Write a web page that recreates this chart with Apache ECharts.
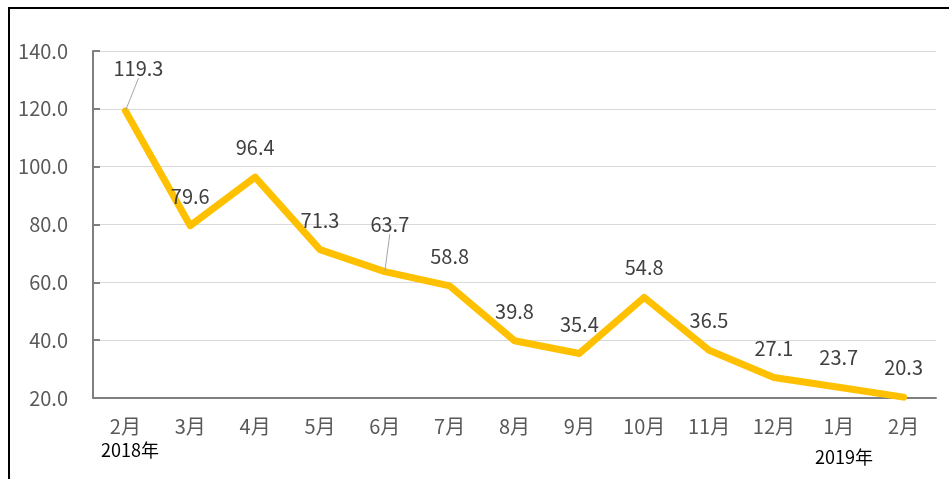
<!DOCTYPE html>
<html>
<head>
<meta charset="utf-8">
<script src="https://cdn.jsdelivr.net/npm/echarts@6/dist/echarts.min.js"></script>
<style>
  html, body { margin: 0; padding: 0; background: #fff; }
  #chart { width: 949px; height: 479px; }
</style>
</head>
<body>
<div id="chart"></div>
<script>
  const months = ["2月", "3月", "4月", "5月", "6月", "7月", "8月", "9月", "10月", "11月", "12月", "1月", "2月"];
  const values = [119.3, 79.6, 96.4, 71.3, 63.7, 58.8, 39.8, 35.4, 54.8, 36.5, 27.1, 23.7, 20.3];
  const yearLabels = ["2018年", "2019年"];

  const font = "'Noto Sans CJK SC', 'Noto Sans', sans-serif";

  var myChart = echarts.init(document.getElementById("chart"));
  var option;

  // leader lines only on the two labels that sit off to the side
  const seriesData = values.map((v, i) => {
    if (i === 0 || i === 4) {
      return {
        value: v,
        labelLine: { show: true, lineStyle: { color: "#a6a6a6", width: 1 } },
      };
    }
    return v;
  });

  option = {
    animation: false,
    grid: { left: 93, right: 13, top: 51, bottom: 81 },
    graphic: [
      {
        type: "rect",
        shape: { x: 9, y: 8, width: 1200, height: 1200 },
        style: { fill: "none", stroke: "#000", lineWidth: 2 },
        silent: true,
      },
      {
        type: "text",
        left: 101,
        top: 441,
        style: { text: yearLabels[0], fill: "#000", font: "18px " + font },
      },
      {
        type: "text",
        left: 815,
        top: 448,
        style: { text: yearLabels[1], fill: "#000", font: "18px " + font },
      },
    ],
    xAxis: {
      type: "category",
      data: months,
      boundaryGap: true,
      axisLine: { lineStyle: { color: "#7f7f7f", width: 2 } },
      axisTick: { show: false },
      axisLabel: { color: "#595959", fontSize: 20, fontFamily: font, margin: 18 },
    },
    yAxis: {
      type: "value",
      min: 20,
      max: 140,
      interval: 20,
      axisLine: { show: true, lineStyle: { color: "#7f7f7f", width: 2 } },
      axisTick: { show: true, inside: true, length: 7, lineStyle: { color: "#7f7f7f", width: 2 } },
      axisLabel: {
        color: "#595959",
        fontSize: 20,
        fontFamily: font,
        margin: 25,
        formatter: (v) => v.toFixed(1),
      },
      splitLine: { lineStyle: { color: "#d9d9d9", width: 1 } },
    },
    series: [
      {
        type: "line",
        data: seriesData,
        symbol: "circle",
        symbolSize: 1,
        itemStyle: { color: "#FFC000" },
        lineStyle: { color: "#FFC000", width: 7, cap: "round", join: "round" },
        label: {
          show: true,
          position: "top",
          distance: 19,
          color: "#404040",
          fontSize: 20,
          fontFamily: font,
          formatter: (p) => p.value.toFixed(1),
        },
        labelLayout: (params) => {
          if (params.dataIndex === 0) return { dx: 13, dy: -13 };
          if (params.dataIndex === 4) return { dx: 5, dy: -18 };
          return {};
        },
      },
    ],
  };

  option && myChart.setOption(option);
</script>
</body>
</html>
